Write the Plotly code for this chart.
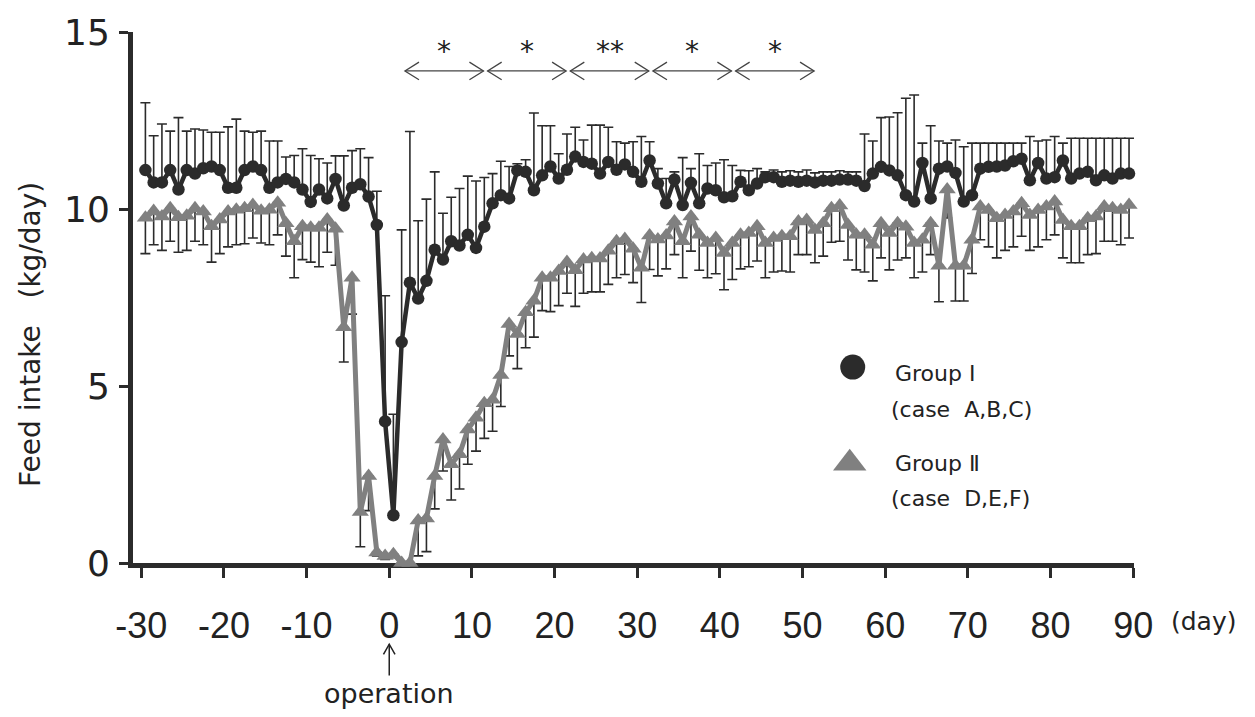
import plotly.graph_objects as go

# ---------------- data ----------------
days = list(range(-30, 90))

group1_mean = [
    11.1, 10.75, 10.75, 11.1, 10.55, 11.1, 11.0, 11.15, 11.2, 11.1,
    10.6, 10.6, 11.1, 11.2, 11.1, 10.6, 10.75, 10.85, 10.75, 10.55,
    10.2, 10.55, 10.3, 10.85, 10.1, 10.6, 10.7, 10.35, 9.55,
    4.0, 1.35,
    6.24, 7.92, 7.47, 7.97, 8.85, 8.57, 9.09, 8.97, 9.27, 8.9,
    9.5, 10.16, 10.39, 10.3, 11.09, 11.05, 10.53, 10.95, 11.2, 10.86,
    11.11, 11.48, 11.33, 11.28, 11.0, 11.33, 11.11, 11.26, 11.05, 10.77,
    11.37, 10.72, 10.16, 10.83, 10.11, 10.74, 10.16, 10.58, 10.53, 10.33,
    10.36, 10.77, 10.53, 10.72, 10.9, 10.9, 10.77, 10.8, 10.77, 10.8,
    10.75, 10.8, 10.8, 10.83,
    10.83, 10.8, 10.65, 11.0, 11.19, 11.09, 10.95, 10.39, 10.21, 11.3,
    10.3, 11.14, 11.2, 11.02, 10.21, 10.39,
    11.14, 11.19, 11.2, 11.23, 11.35, 11.42, 10.81, 11.3, 10.86, 10.9,
    11.37, 10.86, 11.0, 11.05, 10.81, 10.95, 10.86, 11.0, 11.0,
]

group1_upper = [
    13.0, 12.07, 12.4, 12.2, 12.58, 12.2, 12.26, 12.23, 12.17, 12.17,
    12.32, 12.54, 12.2, 12.17, 12.2, 11.92, 11.92, 11.47, 11.51, 11.7,
    11.51, 11.42, 11.3, 11.5, 11.5, 11.65, 11.7, 11.45, 10.5,
    7.55, 4.2,
    9.41, 12.19, 9.67, 10.28, 11.05, 9.88, 10.33, 10.58, 10.93, 10.79,
    10.89, 11.0, 11.35, 11.2, 11.28, 11.39, 12.71, 12.35, 12.35, 11.56,
    12.12, 12.31, 11.95, 12.37, 12.37, 12.31, 11.9, 11.86, 11.9, 12.05,
    11.9, 11.14, 10.86, 11.05, 11.45, 11.14, 11.56, 11.23, 11.3, 11.39,
    11.23, 11.09, 11.08, 11.14, 11.05, 11.1, 11.05, 11.08, 11.05, 11.1,
    11.02, 11.05, 11.05, 11.08,
    11.05, 11.05, 12.12, 11.92, 12.58, 12.6, 12.72, 13.13, 13.22, 11.86,
    12.35, 11.92, 11.86, 11.95, 11.76, 11.86,
    11.86, 11.86, 11.86, 11.86, 11.86, 11.86, 12.05, 11.92, 11.95, 12.05,
    11.86, 12.0, 12.0, 12.0, 12.0, 12.0, 12.0, 12.0, 12.0,
]

group2_mean = [
    9.75, 9.94, 9.79, 10.02, 9.77, 9.81, 10.02, 9.93, 9.51, 9.7,
    9.93, 9.98, 10.02, 10.11, 9.95, 9.98, 10.18, 9.6, 9.09, 9.51,
    9.47, 9.47, 9.7, 9.44,
    6.66, 8.06, 1.44, 2.46, 0.3, 0.2, 0.25,
    0.0, 0.0, 1.2, 1.26, 2.46, 3.49, 2.79, 3.07, 3.77, 4.1,
    4.51, 4.61, 5.31, 6.75, 6.47, 7.08, 7.41, 8.06, 8.06, 8.25,
    8.5, 8.27, 8.57, 8.61, 8.6, 8.82, 9.09, 9.15, 8.88, 8.34,
    9.25, 9.14, 9.25, 9.65, 9.09, 9.79, 9.27, 9.04, 9.18, 8.76,
    9.04, 9.27, 9.32, 9.51, 9.04, 9.18, 9.23, 9.23, 9.65, 9.69,
    9.41, 9.6, 10.02, 10.1,
    9.55, 9.27, 9.27, 8.99, 9.6, 9.32, 9.6, 9.5, 9.04, 9.13,
    9.6, 8.4, 10.55, 8.4, 8.4, 9.13,
    10.07, 9.97, 9.74, 9.83, 9.93, 10.16, 9.83, 9.97, 10.07, 10.21,
    9.69, 9.51, 9.51, 9.74, 9.79, 10.07, 10.02, 9.97, 10.11,
]

group2_lower = [
    8.74, 8.99, 8.83, 9.09, 8.78, 8.83, 9.09, 8.99, 8.5, 8.74,
    8.93, 8.99, 9.02, 9.18, 9.04, 8.99, 9.27, 8.67, 8.06, 8.57,
    8.5, 8.37, 8.78, 8.41,
    5.68, 7.03, 0.46, 1.48, 0.2, 0.1, 0.15,
    0.0, 0.0, 0.2, 0.32, 1.53, 2.6, 1.78, 2.09, 2.79, 3.16,
    3.52, 3.72, 4.42, 5.85, 5.49, 6.08, 6.38, 7.13, 7.1, 7.27,
    7.62, 7.25, 7.62, 7.66, 7.66, 7.87, 8.06, 8.15, 7.92, 7.36,
    8.29, 8.11, 8.31, 8.71, 8.06, 8.81, 8.27, 8.06, 8.17, 7.72,
    8.01, 8.31, 8.37, 8.53, 8.06, 8.22, 8.25, 8.22, 8.71, 8.71,
    8.48, 8.67, 9.06, 9.09,
    8.56, 8.28, 8.22, 7.97, 8.62, 8.28, 8.56, 8.62, 8.06, 8.22,
    8.71, 7.38, 9.75, 7.4, 7.4, 8.18,
    9.13, 8.93, 8.62, 8.83, 8.93, 9.23, 8.83, 8.93, 9.13, 9.27,
    8.62, 8.48, 8.48, 8.71, 8.74, 9.09, 9.09, 8.99, 9.18,
]

x_tick_labels = [-30, -20, -10, 0, 10, 20, 30, 40, 50, 60, 70, 80, 90]
y_tick_labels = [0, 5, 10, 15]

sig_periods = [(1, 11), (11, 21), (21, 31), (31, 41), (41, 51)]
sig_marks = ["*", "*", "**", "*", "*"]
sig_level = 13.9

operation_day = 0

legend_names = ["Group\u00a0\u2160", "Group\u00a0\u2161"]
legend_cases = ["(case\u00a0\u00a0A,B,C)", "(case\u00a0\u00a0D,E,F)"]

# ---------------- styling ----------------
DARK = "#2b2b2b"
GRAY = "#808080"
TXT = "#222222"
SANS = "Liberation Sans, Arial, sans-serif"
WIDE = "DejaVu Sans, Verdana, sans-serif"

err1_plus = [u - m for u, m in zip(group1_upper, group1_mean)]
err2_minus = [m - l for m, l in zip(group2_mean, group2_lower)]
zeros = [0] * len(days)

fig = go.Figure()

fig.add_trace(go.Scatter(
    x=days, y=group2_mean, mode="lines+markers",
    line=dict(color=GRAY, width=5),
    marker=dict(symbol="triangle-up", size=15, color=GRAY),
    error_y=dict(type="data", symmetric=False, array=zeros, arrayminus=err2_minus,
                 color=DARK, thickness=1.6, width=5),
    cliponaxis=False, showlegend=False,
))

fig.add_trace(go.Scatter(
    x=days, y=group1_mean, mode="lines+markers",
    line=dict(color=DARK, width=4.5),
    marker=dict(symbol="circle", size=12.5, color=DARK),
    error_y=dict(type="data", symmetric=False, array=err1_plus, arrayminus=zeros,
                 color=DARK, thickness=1.6, width=5),
    cliponaxis=False, showlegend=False,
))

# legend keys on an overlay axis in [0,1] coordinates
key_x = [0.719, 0.716]
key_y = [0.369, 0.188]
name_y = [0.356, 0.188]
case_y = [0.289, 0.121]
fig.add_trace(go.Scatter(
    x=[key_x[0]], y=[key_y[0]], mode="markers", xaxis="x2", yaxis="y2",
    marker=dict(symbol="circle", size=25, color=DARK), showlegend=False,
    cliponaxis=False, hoverinfo="skip",
))
fig.add_trace(go.Scatter(
    x=[key_x[1]], y=[key_y[1]], mode="markers", xaxis="x2", yaxis="y2",
    marker=dict(symbol="triangle-up", size=29, color=GRAY), showlegend=False,
    cliponaxis=False, hoverinfo="skip",
))

annotations = []
for name, case, ny, cy in zip(legend_names, legend_cases, name_y, case_y):
    annotations.append(dict(xref="paper", yref="paper", x=0.759, y=ny,
                            text=name, showarrow=False, xanchor="left", yanchor="middle",
                            font=dict(family=WIDE, size=22, color=TXT)))
    annotations.append(dict(xref="paper", yref="paper", x=0.755, y=cy,
                            text=case, showarrow=False, xanchor="left", yanchor="middle",
                            font=dict(family=WIDE, size=22, color=TXT)))

shapes = []
dx, dy = 1.7, 0.25
for (a, b), mark in zip(sig_periods, sig_marks):
    x0, x1 = a + 0.4, b - 0.1
    shapes.append(dict(type="line", xref="x", yref="y", x0=x0, x1=x1,
                       y0=sig_level, y1=sig_level, line=dict(color="#444", width=1.3)))
    shapes.append(dict(type="path", xref="x", yref="y",
                       path=f"M {x0+dx},{sig_level+dy} L {x0},{sig_level} L {x0+dx},{sig_level-dy}",
                       line=dict(color="#444", width=1.3)))
    shapes.append(dict(type="path", xref="x", yref="y",
                       path=f"M {x1-dx},{sig_level+dy} L {x1},{sig_level} L {x1-dx},{sig_level-dy}",
                       line=dict(color="#444", width=1.3)))
    annotations.append(dict(xref="x", yref="y", x=(x0 + x1) / 2, y=sig_level + 0.55,
                            text=mark, showarrow=False, yanchor="middle",
                            font=dict(family=WIDE, size=28, color=TXT)))

# operation arrow below the axis
op_x = operation_day - 0.5
shapes.append(dict(type="line", xref="x", yref="paper", x0=op_x, x1=op_x,
                   y0=-0.153, y1=-0.212, line=dict(color=TXT, width=1.5)))
shapes.append(dict(type="path", xref="x", yref="paper",
                   path=f"M {op_x-0.7},-0.172 L {op_x},-0.153 L {op_x+0.7},-0.172",
                   line=dict(color=TXT, width=1.5)))
annotations.append(dict(xref="x", yref="paper", x=op_x, y=-0.246, text="operation",
                        showarrow=False, xanchor="center", yanchor="middle",
                        font=dict(family=WIDE, size=27, color=TXT)))

annotations.append(dict(xref="paper", yref="paper", x=1.07, y=-0.11, text="(day)",
                        showarrow=False, xanchor="center", yanchor="middle",
                        font=dict(family=WIDE, size=25, color=TXT)))

annotations.append(dict(xref="paper", yref="paper", x=-0.103, y=0.431,
                        text="Feed intake\u00a0\u00a0\u00a0(kg/day)", textangle=-90,
                        showarrow=False, xanchor="center", yanchor="middle",
                        font=dict(family=WIDE, size=28, color=TXT)))

fig.update_layout(
    width=1255, height=717,
    margin=dict(l=133, r=121, t=27, b=154),
    paper_bgcolor="white", plot_bgcolor="white",
    shapes=shapes, annotations=annotations,
    xaxis=dict(
        range=[-31.5, 89.6],
        tickvals=[t - 0.5 for t in x_tick_labels],
        ticktext=[str(t) for t in x_tick_labels],
        showline=True, linewidth=5, linecolor=DARK,
        ticks="outside", ticklen=10, tickwidth=3, tickcolor=DARK,
        showgrid=False, zeroline=False, layer="below traces",
        tickfont=dict(family=SANS, size=36, color=TXT),
        ticklabelstandoff=17,
    ),
    yaxis=dict(
        range=[0, 15],
        tickvals=y_tick_labels,
        ticktext=[str(t) for t in y_tick_labels],
        showline=True, linewidth=5, linecolor=DARK,
        ticks="outside", ticklen=9, tickwidth=3, tickcolor=DARK,
        showgrid=False, zeroline=False, layer="below traces",
        tickfont=dict(family=WIDE, size=36, color=TXT),
        ticklabelstandoff=2,
    ),
    xaxis2=dict(overlaying="x", range=[0, 1], visible=False, anchor="y2"),
    yaxis2=dict(overlaying="y", range=[0, 1], visible=False, anchor="x2"),
)

fig.write_html("out.html", config={"displayModeBar": False},
               post_script="document.body.style.margin='0px';")
